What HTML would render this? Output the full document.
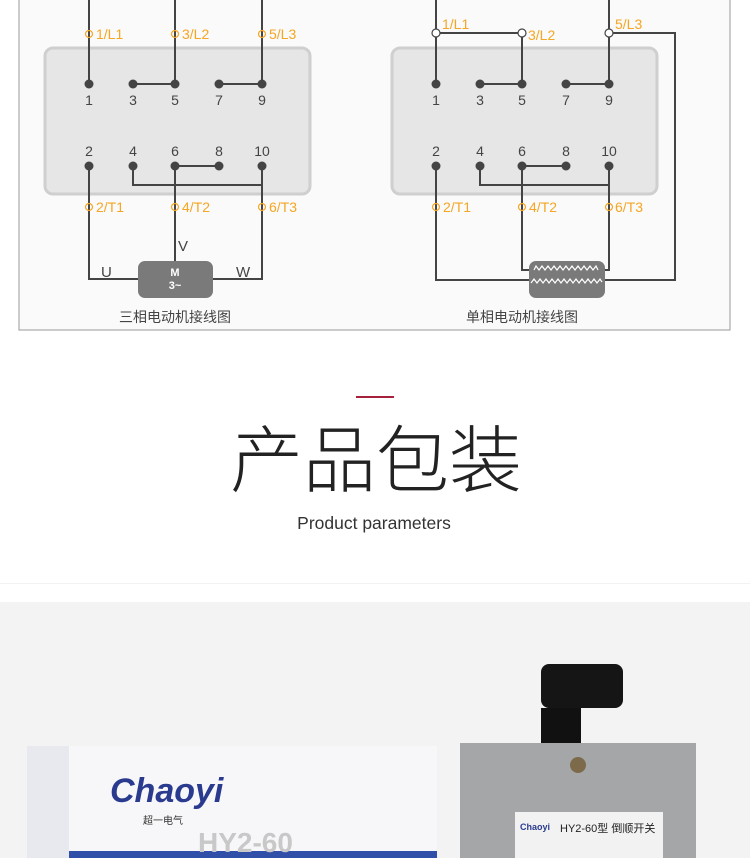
<!DOCTYPE html>
<html><head><meta charset="utf-8"><style>
body{margin:0;width:750px;height:858px;overflow:hidden;background:#fff;font-family:"Liberation Sans","Noto Sans CJK SC",sans-serif}
</style></head><body>
<svg width="750" height="858" viewBox="0 0 750 858" xmlns="http://www.w3.org/2000/svg" font-family="Liberation Sans, Noto Sans CJK SC, sans-serif">
<rect x="19" y="-2" width="711" height="332" fill="#fafafa" stroke="#999" stroke-width="1"/>
<!-- LEFT -->
<rect x="45" y="48" width="265" height="146" rx="8" fill="#e6e6e6" stroke="#cfcfcf" stroke-width="3"/>
<g stroke="#444" stroke-width="2" fill="none">
<path d="M89 0V84M175 0V84M262 0V84M133 84H175M219 84H262"/>
<path d="M89 166V279H138M175 166H219M175 166V261M133 166V185H262M262 166V279H213"/>
</g>
<g fill="#444"><circle cx="89" cy="84" r="4.5"/><circle cx="133" cy="84" r="4.5"/><circle cx="175" cy="84" r="4.5"/><circle cx="219" cy="84" r="4.5"/><circle cx="262" cy="84" r="4.5"/>
<circle cx="89" cy="166" r="4.5"/><circle cx="133" cy="166" r="4.5"/><circle cx="175" cy="166" r="4.5"/><circle cx="219" cy="166" r="4.5"/><circle cx="262" cy="166" r="4.5"/></g>
<g font-size="14" fill="#444" text-anchor="middle"><text x="89" y="105">1</text><text x="133" y="105">3</text><text x="175" y="105">5</text><text x="219" y="105">7</text><text x="262" y="105">9</text>
<text x="89" y="156">2</text><text x="133" y="156">4</text><text x="175" y="156">6</text><text x="219" y="156">8</text><text x="262" y="156">10</text></g>
<g fill="none" stroke="#f5a623" stroke-width="1.2"><circle cx="89" cy="34" r="3.5"/><circle cx="175" cy="34" r="3.5"/><circle cx="262" cy="34" r="3.5"/><circle cx="89" cy="207" r="3.5"/><circle cx="175" cy="207" r="3.5"/><circle cx="262" cy="207" r="3.5"/></g>
<g font-size="14" fill="#f5a623"><text x="96" y="39">1/L1</text><text x="182" y="39">3/L2</text><text x="269" y="39">5/L3</text><text x="96" y="212">2/T1</text><text x="182" y="212">4/T2</text><text x="269" y="212">6/T3</text></g>
<rect x="138" y="261" width="75" height="37" rx="7" fill="#7a7a7a"/>
<text x="175" y="276" font-size="11" fill="#fff" text-anchor="middle" font-weight="bold">M</text>
<text x="175" y="289" font-size="11" fill="#fff" text-anchor="middle" font-weight="bold">3~</text>
<g font-size="15" fill="#444"><text x="101" y="277">U</text><text x="236" y="277">W</text><text x="178" y="251">V</text></g>
<text x="175" y="322" font-size="14" fill="#444" text-anchor="middle">三相电动机接线图</text>
<!-- RIGHT -->
<rect x="392" y="48" width="265" height="146" rx="8" fill="#e6e6e6" stroke="#cfcfcf" stroke-width="3"/>
<g stroke="#444" stroke-width="2" fill="none">
<path d="M436 0V84M609 0V84M436 33H522M522 33V84M480 84H522M566 84H609M609 33H675V280H605"/>
<path d="M436 166V280H530M522 166H566M522 166V270H530M480 166V185H609M609 166V270H605"/>
</g>
<g fill="#fff" stroke="#444" stroke-width="1.2"><circle cx="436" cy="33" r="4"/><circle cx="522" cy="33" r="4"/><circle cx="609" cy="33" r="4"/></g>
<g fill="#444"><circle cx="436" cy="84" r="4.5"/><circle cx="480" cy="84" r="4.5"/><circle cx="522" cy="84" r="4.5"/><circle cx="566" cy="84" r="4.5"/><circle cx="609" cy="84" r="4.5"/>
<circle cx="436" cy="166" r="4.5"/><circle cx="480" cy="166" r="4.5"/><circle cx="522" cy="166" r="4.5"/><circle cx="566" cy="166" r="4.5"/><circle cx="609" cy="166" r="4.5"/></g>
<g font-size="14" fill="#444" text-anchor="middle"><text x="436" y="105">1</text><text x="480" y="105">3</text><text x="522" y="105">5</text><text x="566" y="105">7</text><text x="609" y="105">9</text>
<text x="436" y="156">2</text><text x="480" y="156">4</text><text x="522" y="156">6</text><text x="566" y="156">8</text><text x="609" y="156">10</text></g>
<g fill="none" stroke="#f5a623" stroke-width="1.2"><circle cx="436" cy="207" r="3.5"/><circle cx="522" cy="207" r="3.5"/><circle cx="609" cy="207" r="3.5"/></g>
<g font-size="14" fill="#f5a623"><text x="442" y="29">1/L1</text><text x="528" y="40">3/L2</text><text x="615" y="29">5/L3</text><text x="443" y="212">2/T1</text><text x="529" y="212">4/T2</text><text x="615" y="212">6/T3</text></g>
<rect x="529" y="261" width="76" height="37" rx="7" fill="#7a7a7a"/>
<path d="M534 270 l2 -4 l3 4 l3 -4 l3 4 l3 -4 l3 4 l3 -4 l3 4 l3 -4 l3 4 l3 -4 l3 4 l3 -4 l3 4 l3 -4 l3 4 l3 -4 l3 4 l3 -4 l3 4 l3 -4 l2 4M531 283 l3 -4 l3 4 l3 -4 l3 4 l3 -4 l3 4 l3 -4 l3 4 l3 -4 l3 4 l3 -4 l3 4 l3 -4 l3 4 l3 -4 l3 4 l3 -4 l3 4 l3 -4 l3 4 l3 -4 l3 4 l3 -4 l2 3" stroke="#fff" fill="none" stroke-width="1.2"/>
<text x="522" y="322" font-size="14" fill="#444" text-anchor="middle">单相电动机接线图</text>
<!-- title -->
<rect x="356" y="396" width="38" height="2" fill="#a6213c"/>
<text x="376" y="486" font-size="73" fill="#222" text-anchor="middle" font-weight="300">产品包装</text>
<text x="374" y="529" font-size="17.5" fill="#333" text-anchor="middle">Product parameters</text>
<rect x="0" y="583" width="750" height="1" fill="#f2f2f2"/>
<rect x="0" y="602" width="750" height="256" fill="#f3f3f3"/>
<!-- product box -->
<rect x="27" y="746" width="410" height="112" fill="#f7f7f9"/>
<rect x="27" y="746" width="42" height="112" fill="#e8e9ee"/>
<rect x="69" y="851" width="368" height="7" fill="#2f4fa8"/>
<text x="110" y="802" font-size="34" font-weight="bold" fill="#2a3b8f" font-style="italic">Chaoyi</text>
<text x="143" y="824" font-size="10" fill="#333">超一电气</text>
<text x="198" y="852" font-size="28" font-weight="bold" fill="#c8c8c8">HY2-60</text>
<!-- device -->
<rect x="541" y="664" width="82" height="44" rx="8" fill="#151515"/>
<rect x="541" y="708" width="40" height="36" fill="#111"/>
<rect x="460" y="743" width="236" height="115" fill="#a4a6a8"/>
<circle cx="578" cy="765" r="8" fill="#7d6a4a"/>
<rect x="515" y="812" width="148" height="46" fill="#f2f2f2"/>
<text x="560" y="832" font-size="11" fill="#222">HY2-60型 倒顺开关</text>
<text x="520" y="830" font-size="9" fill="#2a3b8f" font-weight="bold">Chaoyi</text>
</svg>
</body></html>
